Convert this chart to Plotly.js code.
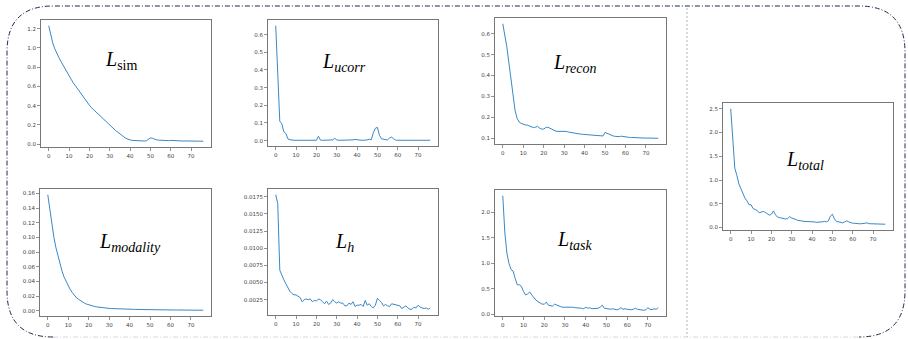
<!DOCTYPE html>
<html><head><meta charset="utf-8">
<script src="https://cdn.plot.ly/plotly-3.0.1.min.js"></script>
<style>html,body{margin:0;padding:0;background:#fff;}#c{width:908px;height:339px;}</style>
</head><body><div id="c"></div>
<script>
const epochs77 = Array.from({length:77},(_,i)=>i);
const epochs76 = Array.from({length:76},(_,i)=>i);

const lossSim = [1.23,1.12,1.05,0.99,0.94,0.90,0.86,0.82,0.78,0.745,0.71,0.675,0.64,0.61,0.575,0.545,0.515,0.485,0.46,0.43,
0.405,0.38,0.36,0.335,0.315,0.29,0.27,0.25,0.23,0.21,0.195,0.175,0.16,0.14,0.125,0.105,0.09,0.075,0.06,0.05,
0.045,0.04,0.038,0.036,0.035,0.034,0.034,0.033,0.036,0.05,0.065,0.062,0.05,0.045,0.042,0.04,0.038,0.042,0.04,0.037,
0.04,0.038,0.035,0.034,0.034,0.033,0.033,0.034,0.034,0.033,0.034,0.033,0.032,0.032,0.031,0.031,0.031];

const lossUcorr = [0.65,0.37,0.11,0.095,0.05,0.04,0.01,0.005,0.002,0.002,0.002,0.002,0.002,0.002,0.002,0.002,0.002,0.002,0.002,0.002,
0.002,0.025,0.003,0.002,0.002,0.002,0.002,0.002,0.004,0.013,0.004,0.002,0.002,0.002,0.002,0.002,0.002,0.002,0.004,0.007,
0.004,0.002,0.002,0.002,0.002,0.004,0.008,0.005,0.045,0.07,0.075,0.03,0.01,0.008,0.005,0.004,0.015,0.02,0.01,0.003,
0.002,0.002,0.002,0.002,0.002,0.002,0.002,0.004,0.002,0.002,0.002,0.002,0.002,0.002,0.002,0.002,0.002];

const lossRecon = [0.648,0.6,0.536,0.46,0.39,0.3,0.233,0.195,0.177,0.17,0.165,0.163,0.162,0.158,0.153,0.15,0.152,0.156,0.148,0.143,
0.143,0.15,0.152,0.147,0.14,0.135,0.133,0.132,0.132,0.133,0.133,0.132,0.129,0.127,0.124,0.122,0.121,0.12,0.119,0.118,
0.117,0.116,0.115,0.114,0.113,0.112,0.111,0.11,0.11,0.11,0.127,0.123,0.116,0.112,0.11,0.108,0.107,0.107,0.109,0.107,
0.105,0.104,0.103,0.103,0.102,0.102,0.101,0.101,0.1,0.1,0.1,0.1,0.1,0.099,0.099,0.099,0.099];

const lossModality = [0.158,0.136,0.117,0.100,0.086,0.074,0.063,0.054,0.046,0.040,0.034,0.029,0.025,0.021,0.018,0.016,0.014,0.012,0.0105,0.0093,
0.0083,0.0074,0.0067,0.006,0.0055,0.005,0.0046,0.0043,0.004,0.0037,0.0035,0.0033,0.0031,0.003,0.0029,0.0028,0.0027,0.0026,0.0025,0.0024,
0.0023,0.0022,0.0022,0.0021,0.002,0.002,0.0019,0.0019,0.0018,0.0018,0.0017,0.0017,0.0016,0.0016,0.0016,0.0015,0.0015,0.0015,0.0014,0.0014,
0.0014,0.0013,0.0013,0.0013,0.0013,0.0012,0.0012,0.0012,0.0012,0.0011,0.0011,0.0011,0.0011,0.001,0.001,0.001,0.001];

const lossH = [0.0178,0.0165,0.0068,0.006,0.0054,0.0048,0.0042,0.0037,0.0034,0.0032,0.0032,0.003,0.0028,0.0022,0.0025,0.0026,0.0025,0.0026,0.0022,0.0024,
0.0023,0.0026,0.0025,0.0022,0.0019,0.0023,0.0018,0.002,0.0025,0.0022,0.002,0.0022,0.002,0.002,0.0016,0.0016,0.002,0.0018,0.0022,0.0015,
0.0017,0.0017,0.0018,0.0015,0.0024,0.0017,0.0019,0.0015,0.0013,0.0017,0.0027,0.0024,0.0021,0.0016,0.0018,0.0016,0.0015,0.0019,0.0018,0.0017,
0.0017,0.0016,0.0012,0.0014,0.0016,0.0013,0.0011,0.0011,0.0014,0.0013,0.0017,0.0014,0.0013,0.0012,0.0013,0.0011,0.0013];

const lossTask = [2.33,1.6,1.2,1.0,0.88,0.85,0.7,0.58,0.58,0.55,0.45,0.38,0.4,0.44,0.38,0.32,0.28,0.25,0.22,0.2,
0.2,0.24,0.18,0.17,0.16,0.2,0.18,0.17,0.15,0.14,0.14,0.15,0.15,0.14,0.14,0.13,0.13,0.12,0.12,0.11,
0.14,0.12,0.13,0.11,0.11,0.11,0.12,0.14,0.18,0.12,0.11,0.1,0.1,0.11,0.1,0.09,0.1,0.13,0.1,0.11,
0.1,0.09,0.09,0.1,0.12,0.1,0.09,0.09,0.08,0.09,0.13,0.1,0.09,0.11,0.1,0.13];

const lossTotal = [2.5,1.8,1.25,1.1,0.92,0.82,0.7,0.62,0.56,0.48,0.48,0.4,0.38,0.36,0.31,0.33,0.34,0.32,0.28,0.26,
0.28,0.35,0.27,0.22,0.21,0.2,0.19,0.18,0.19,0.23,0.2,0.19,0.17,0.15,0.15,0.14,0.13,0.13,0.13,0.13,
0.12,0.12,0.11,0.11,0.11,0.12,0.13,0.12,0.14,0.24,0.28,0.18,0.13,0.12,0.11,0.1,0.12,0.14,0.12,0.1,
0.09,0.09,0.08,0.08,0.08,0.08,0.09,0.1,0.08,0.08,0.08,0.08,0.08,0.08,0.07,0.08,0.07];

const panelTitles = ['<i>L</i><sub>sim</sub>','<i>L</i><sub><i>ucorr</i></sub>','<i>L</i><sub><i>recon</i></sub>',
  '<i>L</i><sub><i>modality</i></sub>','<i>L</i><sub><i>h</i></sub>','<i>L</i><sub><i>task</i></sub>','<i>L</i><sub><i>total</i></sub>'];

const W=908,H=339;
const px=x=>x/W, py=y=>1-y/H;

const panels = [
 {x:epochs77,y:lossSim,box:[41,20,211,147],tick0:0,dtick:0.2,fmt:'.1f',ann:[121,60]},
 {x:epochs77,y:lossUcorr,box:[268,20,438,146],tick0:0,dtick:0.1,fmt:'.1f',ann:[344,62]},
 {x:epochs77,y:lossRecon,box:[495,18,666,144],tick0:0.1,dtick:0.1,fmt:'.1f',ann:[574,63]},
 {x:epochs77,y:lossModality,box:[40,189,211,316],tick0:0,dtick:0.02,fmt:'.2f',ann:[130,242]},
 {x:epochs77,y:lossH,box:[268,189,438,315],tick0:0.0025,dtick:0.0025,fmt:'.4f',ann:[344,242]},
 {x:epochs76,y:lossTask,box:[495,190,666,316],tick0:0,dtick:0.5,fmt:'.1f',ann:[574,240]},
 {x:epochs77,y:lossTotal,box:[723,103,893,230],tick0:0,dtick:0.5,fmt:'.1f',ann:[805,160]},
];

const data=[], layout={width:W,height:H,margin:{l:0,r:0,t:0,b:0},showlegend:false,
  paper_bgcolor:'#fff',plot_bgcolor:'#fff',annotations:[],shapes:[]};
const axBase={showline:true,mirror:true,linecolor:'#777',linewidth:1,ticks:'outside',ticklen:3,tickwidth:0.8,
  tickcolor:'#777',showgrid:false,zeroline:false,tickfont:{family:'DejaVu Sans',size:5.5,color:'#444'},fixedrange:true};

panels.forEach((p,i)=>{
  const n=i+1, xa='xaxis'+(n===1?'':n), ya='yaxis'+(n===1?'':n);
  data.push({type:'scatter',mode:'lines',x:p.x,y:p.y,xaxis:'x'+(n===1?'':n),yaxis:'y'+(n===1?'':n),
    line:{color:'#3a88c4',width:1},hoverinfo:'skip'});
  const xmax=p.x[p.x.length-1], xm=0.05*xmax;
  const ymin=Math.min(...p.y), ymax=Math.max(...p.y), ym=0.05*(ymax-ymin);
  layout[xa]=Object.assign({},axBase,{domain:[px(p.box[0]),px(p.box[2])],anchor:'y'+(n===1?'':n),
    range:[-xm,xmax+xm],tickmode:'linear',tick0:0,dtick:10});
  layout[ya]=Object.assign({},axBase,{domain:[py(p.box[3]),py(p.box[1])],anchor:'x'+(n===1?'':n),
    range:[ymin-ym,ymax+ym],tickmode:'linear',tick0:p.tick0,dtick:p.dtick,tickformat:p.fmt});
  layout.annotations.push({xref:'paper',yref:'paper',x:px(p.ann[0]),y:py(p.ann[1]),xanchor:'center',yanchor:'middle',
    showarrow:false,text:panelTitles[i],font:{family:'Liberation Serif',size:20,color:'#000'}});
});

// rounded dash-dot frame
const L=7,T=6,R=905,B=337,r=46;
const navy='#1c2a4d';
const P=(x,y)=>px(x)+','+py(y);
layout.shapes.push({type:'path',xref:'paper',yref:'paper',
  path:'M'+P(L+r,B)+' Q'+P(L,B)+' '+P(L,B-r)+' L'+P(L,T+r)+' Q'+P(L,T)+' '+P(L+r,T)+' L'+P(R-r,T)+' Q'+P(R,T)+' '+P(R,T+r)+' L'+P(R,B-r)+' Q'+P(R,B)+' '+P(R-r,B),
  line:{color:navy,width:1,dash:'5px,2px,1px,2px'}});
layout.shapes.push({type:'line',xref:'paper',yref:'paper',x0:px(L+r),x1:px(R-r),y0:py(B),y1:py(B),
  line:{color:'#d3d8e0',width:1,dash:'5px,2px,1px,2px'}});
layout.shapes.push({type:'line',xref:'paper',yref:'paper',x0:px(687),x1:px(687),y0:py(T+2),y1:py(B),
  line:{color:'#aab8c8',width:1,dash:'2px,2px'}});

Plotly.newPlot('c',data,layout,{staticPlot:true,displayModeBar:false});
</script></body></html>
